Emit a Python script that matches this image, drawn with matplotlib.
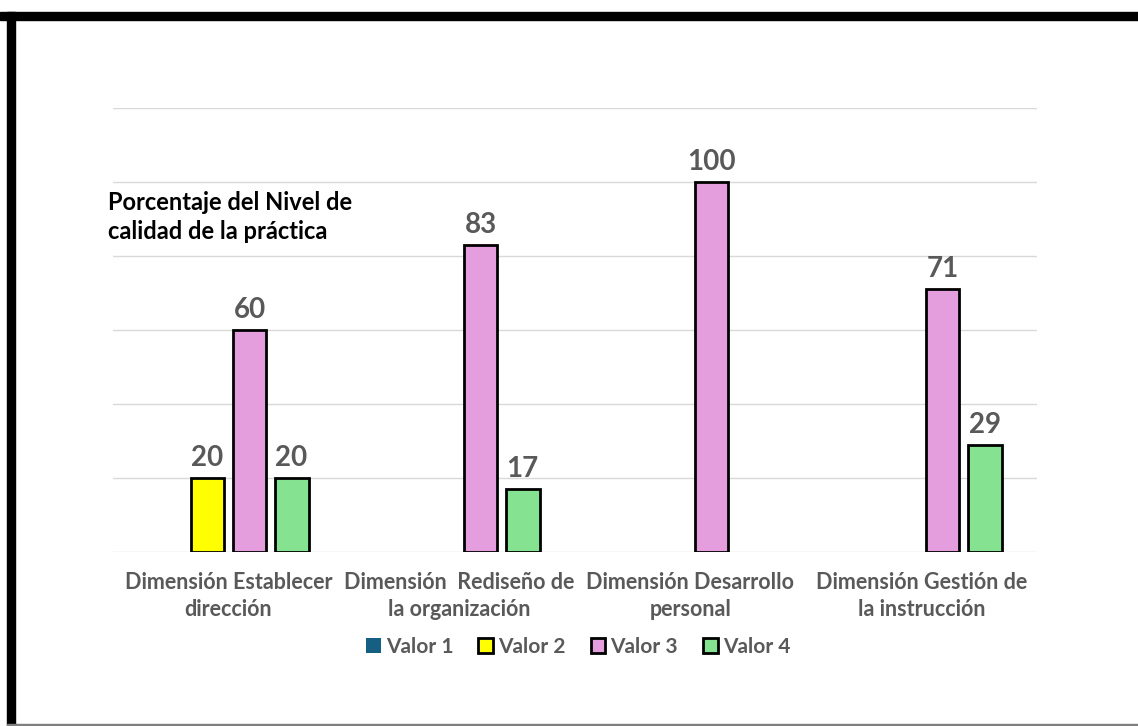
import matplotlib.pyplot as plt
import matplotlib.patches as mpatches
import numpy as np

plt.rcParams['font.family'] = ['Lato', 'DejaVu Sans']

categorias = ["Dimensión Establecer\ndirección",
              "Dimensión  Rediseño de\nla organización",
              "Dimensión Desarrollo\npersonal",
              "Dimensión Gestión de\nla instrucción"]
series = ["Valor 1", "Valor 2", "Valor 3", "Valor 4"]
valor1 = [0, 0, 0, 0]
valor2 = [20, 0, 0, 0]
valor3 = [60, 83, 100, 71]
valor4 = [20, 17, 0, 29]
valores = [valor1, valor2, valor3, valor4]
colores = ["#156082", "#FFFF00", "#E59EDD", "#84E291"]
gris = "#595959"

fig = plt.figure(figsize=(11.38, 7.26), dpi=100)
ax = fig.add_axes([113 / 1138, 174 / 726, 924 / 1138, 444 / 726])

x = np.arange(len(categorias))
paso = 0.182
ancho = 0.147
for i, (nombre, vals) in enumerate(zip(series, valores)):
    pos = x + (i - 1.5) * paso
    for xi, v in zip(pos, vals):
        if v > 0:
            ax.bar(xi, v, width=ancho, color=colores[i], edgecolor="black",
                   linewidth=2, zorder=3)
            ax.text(xi, v + 1.9, f"{v}", ha="center", va="bottom",
                    fontsize=20, fontweight="bold", color=gris)

ax.set_xlim(-0.5, 3.5)
ax.set_ylim(0, 120)
ax.set_yticks(np.arange(0, 121, 20))
ax.yaxis.grid(True, color="#D9D9D9", linewidth=1)
ax.set_axisbelow(True)
ax.tick_params(left=False, labelleft=False, bottom=False)
for s in ax.spines.values():
    s.set_visible(False)
ax.set_xticks(x)
ax.set_xticklabels(categorias, fontsize=15.5, fontweight="bold", color=gris,
                   linespacing=1.35)
ax.tick_params(axis="x", pad=11)

ax.text(-0.52, 90.5, "Porcentaje del Nivel de\ncalidad de la práctica",
        ha="left", va="center", fontsize=17, fontweight="bold",
        color="black", linespacing=1.3)

handles = [mpatches.Patch(facecolor=colores[0], edgecolor="none")]
handles += [mpatches.Patch(facecolor=c, edgecolor="black", linewidth=2)
            for c in colores[1:]]
fig.legend(handles, series, loc="center", bbox_to_anchor=(578 / 1138, 1 - 647 / 726),
           ncol=4, frameon=False, handlelength=0.7, handleheight=0.7,
           handletextpad=0.25, columnspacing=1.2,
           prop={"size": 15, "weight": "bold"}, labelcolor=gris)

# marco del grafico
fig.patches.append(mpatches.Rectangle((0, 1 - 19.5 / 726), 1, 8 / 726,
                                      transform=fig.transFigure, color="black"))
fig.patches.append(mpatches.Rectangle((7 / 1138, 0), 8 / 1138, 1 - 12 / 726,
                                      transform=fig.transFigure, color="black"))
fig.patches.append(mpatches.Rectangle((7 / 1138, 1 / 726), 1, 1.5 / 726,
                                      transform=fig.transFigure, color="#7F7F7F"))

fig.savefig("out.png", dpi=100)
